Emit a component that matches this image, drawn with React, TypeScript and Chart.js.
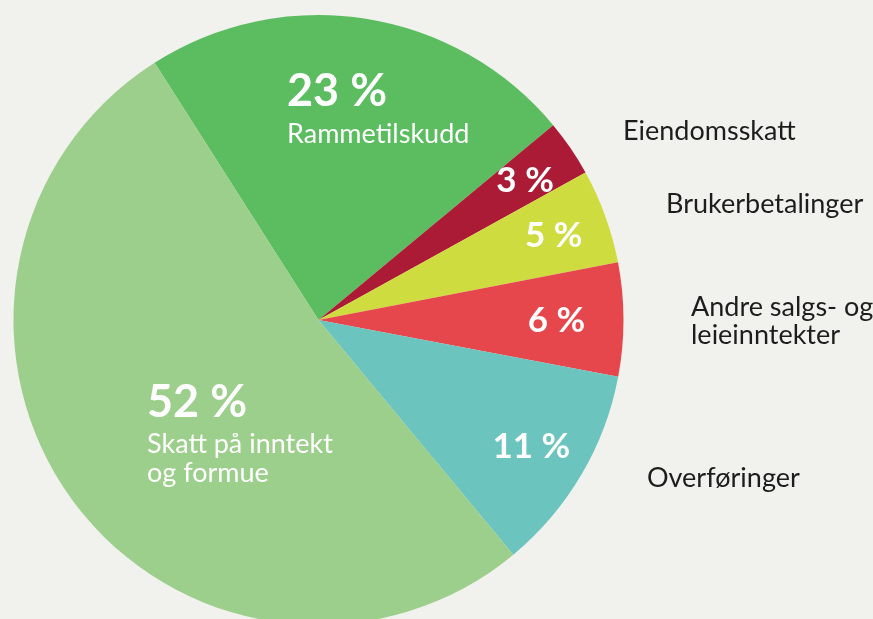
import React, { useEffect, useRef } from "react";
import { Chart, registerables } from "chart.js";

Chart.register(...registerables);

const categories = [
  "Rammetilskudd",
  "Eiendomsskatt",
  "Brukerbetalinger",
  "Andre salgs- og leieinntekter",
  "Overføringer",
  "Skatt på inntekt og formue",
];
const shares = [23, 3, 5, 6, 11, 52];
const percentLabels = ["23 %", "3 %", "5 %", "6 %", "11 %", "52 %"];
const nameLines = [
  ["Rammetilskudd"],
  ["Eiendomsskatt"],
  ["Brukerbetalinger"],
  ["Andre salgs- og", "leieinntekter"],
  ["Overføringer"],
  ["Skatt på inntekt", "og formue"],
];
const sliceColors = ["#5bbd5f", "#ab1b36", "#cfdc3f", "#e6474c", "#6bc4be", "#9ccf8b"];

// label layout (relative to the pie centre, in units of the radius)
const labelLayout = [
  { kind: "inside", dx: -31.5, pctY: -214, nameY: -177 },
  { kind: "split", frac: 0.82, nameDx: 304.5, nameY: -180 },
  { kind: "split", frac: 0.82, nameDx: 347.5, nameY: -107 },
  { kind: "split", frac: 0.78, nameDx: 372.5, nameY: -4 },
  { kind: "split", frac: 0.81, nameDx: 328.5, nameY: 167 },
  { kind: "inside", dx: -171.5, pctY: 97, nameY: 133 },
];

const FONT = "Lato, 'Noto Sans', sans-serif";
const BG = "#f1f1ed";
const DARK = "#1d1d1b";

const labelPlugin = {
  id: "sliceLabels",
  afterDatasetsDraw(chart: any) {
    const ctx = chart.ctx as CanvasRenderingContext2D;
    const meta = chart.getDatasetMeta(0);
    const base = 305;
    ctx.save();
    meta.data.forEach((arc: any, i: number) => {
      const { x, y, outerRadius, startAngle, endAngle } = arc.getProps(
        ["x", "y", "outerRadius", "startAngle", "endAngle"],
        true
      );
      const k = outerRadius / base;
      const L: any = labelLayout[i];
      if (L.kind === "inside") {
        ctx.fillStyle = "#ffffff";
        ctx.textAlign = "left";
        ctx.textBaseline = "alphabetic";
        ctx.font = `bold ${45 * k}px ${FONT}`;
        ctx.fillText(percentLabels[i], x + L.dx * k, y + L.pctY * k);
        ctx.font = `${27 * k}px ${FONT}`;
        nameLines[i].forEach((line, j) => {
          ctx.fillText(line, x + L.dx * k, y + (L.nameY + j * 29) * k);
        });
      } else {
        const mid = (startAngle + endAngle) / 2;
        const px = x + Math.cos(mid) * outerRadius * L.frac;
        const py = y + Math.sin(mid) * outerRadius * L.frac;
        ctx.fillStyle = "#ffffff";
        ctx.textAlign = "center";
        ctx.textBaseline = "alphabetic";
        ctx.font = `bold ${35 * k}px ${FONT}`;
        ctx.fillText(percentLabels[i], px, py + 12.5 * k);
        ctx.fillStyle = DARK;
        ctx.textAlign = "left";
        ctx.font = `${27 * k}px ${FONT}`;
        nameLines[i].forEach((line, j) => {
          ctx.fillText(line, x + L.nameDx * k, y + (L.nameY + j * 28) * k);
        });
      }
    });
    ctx.restore();
  },
};

export default function App() {
  const ref = useRef<HTMLCanvasElement | null>(null);
  useEffect(() => {
    document.documentElement.style.overflow = "hidden";
    document.body.style.margin = "0";
    document.body.style.overflow = "hidden";
    document.body.style.background = BG;
    const chart = new Chart(ref.current as HTMLCanvasElement, {
      type: "pie",
      data: {
        labels: categories,
        datasets: [
          {
            data: shares,
            backgroundColor: sliceColors,
            borderWidth: 0,
          },
        ],
      },
      options: {
        animation: false,
        responsive: true,
        maintainAspectRatio: false,
        rotation: -32.5,
        layout: { padding: { left: 13.5, right: 249.5, top: 15, bottom: 15 } },
        plugins: {
          legend: { display: false },
          tooltip: { enabled: false },
        },
      },
      plugins: [labelPlugin],
    });
    return () => chart.destroy();
  }, []);
  return (
    <div
      style={{
        position: "fixed",
        left: 0,
        top: 0,
        width: "873px",
        height: "640px",
        background: BG,
      }}
    >
      <canvas ref={ref} />
    </div>
  );
}
